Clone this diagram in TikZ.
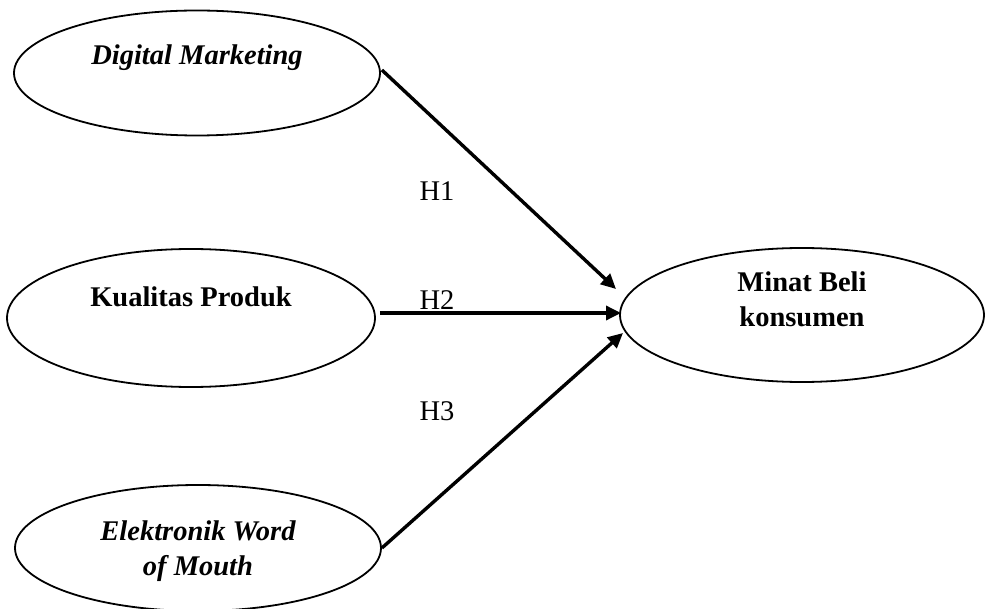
\documentclass[tikz,border=0pt]{standalone}
\usepackage{fontspec}
\setmainfont{Liberation Serif}
\usetikzlibrary{shapes.geometric,arrows.meta}

\tikzset{
  construct/.style={draw, ellipse, line width=1.8pt, inner sep=0pt},
  caption/.style={font=\fontsize{28.5}{35}\selectfont\bfseries, align=center},
  hyp/.style={font=\fontsize{28.5}{35}\selectfont},
  path/.style={line width=3.4pt, -{Triangle[length=15pt,width=14pt]}}
}

\begin{document}
\begin{tikzpicture}[x=1pt, y=-1pt]

    % Page size.
    \useasboundingbox (0, 0) rectangle (985, 609);

    % Centers of the ellipses.
    \coordinate (C1) at (197,  73);
    \coordinate (C2) at (191, 318);
    \coordinate (C3) at (198, 548);
    \coordinate (C4) at (802, 315);

    % Where the arrows stop.
    \coordinate (T1) at (616, 289);
    \coordinate (T2) at (621, 313);
    \coordinate (T3) at (623, 333);

    % The four ellipses.
    \node[construct, minimum width=366, minimum height=125] (dm) at (C1) {};
    \node[construct, minimum width=368, minimum height=138] (kp) at (C2) {};
    \node[construct, minimum width=366, minimum height=126] (ew) at (C3) {};
    \node[construct, minimum width=364, minimum height=134] (mb) at (C4) {};

    % Text inside the ellipses.
    \node[caption, anchor=base] (dmtext) at (197, 65)  {\itshape Digital Marketing};
    \node[caption, anchor=base] (kptext) at (191, 307) {Kualitas Produk};
    \node[caption]              (ewtext) at (198, 551) {\itshape Elektronik Word\\\itshape of Mouth};
    \node[caption]              (mbtext) at (802, 299) {Minat Beli\\konsumen};

    % Arrows.
    \draw[path] ([xshift=1pt, yshift=3pt]dm.east) -- (T1);
    \draw[path] ([xshift=4pt, yshift=5pt]kp.east) -- (T2);
    \draw[path] (ew.east) -- (T3);

    % Hypothesis labels.
    \node[hyp, anchor=base] (h1) at (437, 201) {H1};
    \node[hyp, anchor=base] (h2) at (437, 310) {H2};
    \node[hyp, anchor=base] (h3) at (437, 420) {H3};
\end{tikzpicture}
\end{document}
